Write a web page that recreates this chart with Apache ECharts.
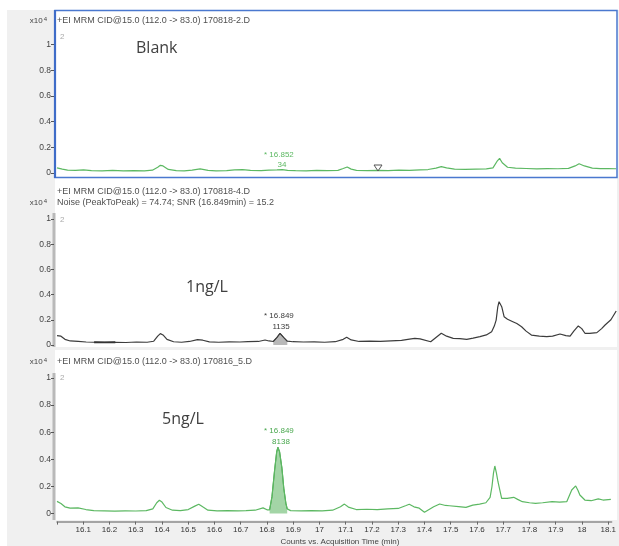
<!DOCTYPE html>
<html><head><meta charset="utf-8">
<script src="https://cdn.jsdelivr.net/npm/echarts@6/dist/echarts.min.js"></script>
<style>html,body{margin:0;padding:0;background:#fff}#c{width:619px;height:546px}</style>
</head><body><div id="c"></div>
<script>
// ---- axis ticks ----
const xTicks = [16.0,16.1,16.2,16.3,16.4,16.5,16.6,16.7,16.8,16.9,17.0,17.1,17.2,17.3,17.4,17.5,17.6,17.7,17.8,17.9,18.0,18.1];
const yTicks = [0,0.2,0.4,0.6,0.8,1];
const xMin = 16.0, xMax = 18.113;

// ---- traces: [time (min), counts x10^4] ----
const blankTrace = [[16.00,0.040],[16.02,0.030],[16.04,0.022],[16.07,0.020],[16.10,0.024],[16.13,0.018],[16.17,0.017],[16.21,0.020],[16.25,0.016],[16.29,0.018],[16.33,0.017],[16.36,0.022],[16.38,0.045],[16.39,0.060],[16.40,0.055],[16.42,0.028],[16.45,0.018],[16.48,0.017],[16.51,0.022],[16.54,0.032],[16.57,0.020],[16.60,0.016],[16.64,0.018],[16.67,0.024],[16.70,0.027],[16.73,0.020],[16.77,0.019],[16.80,0.022],[16.83,0.024],[16.85,0.026],[16.87,0.020],[16.90,0.018],[16.94,0.017],[16.98,0.020],[17.02,0.018],[17.06,0.020],[17.08,0.035],[17.095,0.047],[17.11,0.030],[17.13,0.020],[17.17,0.018],[17.21,0.020],[17.25,0.019],[17.29,0.022],[17.33,0.020],[17.37,0.024],[17.40,0.027],[17.43,0.038],[17.45,0.050],[17.47,0.040],[17.50,0.030],[17.54,0.028],[17.58,0.030],[17.62,0.032],[17.645,0.040],[17.66,0.090],[17.67,0.114],[17.68,0.080],[17.70,0.045],[17.73,0.038],[17.77,0.035],[17.81,0.032],[17.85,0.034],[17.89,0.033],[17.93,0.036],[17.955,0.055],[17.97,0.072],[17.99,0.055],[18.02,0.038],[18.05,0.034],[18.08,0.035],[18.11,0.033]];

const ng1Trace = [[16.00,0.075],[16.015,0.070],[16.03,0.045],[16.05,0.032],[16.08,0.028],[16.11,0.024],[16.14,0.022],[16.18,0.021],[16.22,0.022],[16.26,0.020],[16.30,0.024],[16.34,0.022],[16.365,0.030],[16.38,0.070],[16.39,0.090],[16.40,0.080],[16.415,0.045],[16.44,0.026],[16.47,0.022],[16.50,0.028],[16.53,0.042],[16.55,0.038],[16.575,0.025],[16.61,0.022],[16.65,0.025],[16.69,0.024],[16.72,0.026],[16.76,0.028],[16.785,0.040],[16.80,0.032],[16.816,0.028],[16.83,0.060],[16.8415,0.093],[16.855,0.060],[16.869,0.030],[16.89,0.026],[16.93,0.024],[16.97,0.025],[17.01,0.022],[17.05,0.026],[17.08,0.045],[17.093,0.062],[17.11,0.040],[17.14,0.028],[17.18,0.030],[17.22,0.028],[17.26,0.032],[17.30,0.036],[17.33,0.046],[17.35,0.052],[17.37,0.048],[17.41,0.026],[17.43,0.060],[17.45,0.093],[17.47,0.070],[17.495,0.053],[17.52,0.050],[17.546,0.045],[17.57,0.055],[17.596,0.066],[17.62,0.080],[17.64,0.106],[17.65,0.150],[17.657,0.198],[17.663,0.300],[17.668,0.344],[17.673,0.330],[17.678,0.304],[17.687,0.225],[17.70,0.205],[17.72,0.185],[17.735,0.170],[17.753,0.145],[17.77,0.110],[17.79,0.079],[17.82,0.070],[17.848,0.066],[17.87,0.070],[17.898,0.087],[17.92,0.075],[17.936,0.071],[17.95,0.110],[17.967,0.151],[17.98,0.130],[17.992,0.093],[18.01,0.092],[18.037,0.098],[18.055,0.130],[18.068,0.159],[18.09,0.200],[18.11,0.270]];

const ng5Trace = [[16.00,0.090],[16.015,0.075],[16.03,0.050],[16.05,0.040],[16.08,0.042],[16.11,0.030],[16.14,0.022],[16.18,0.020],[16.22,0.018],[16.26,0.020],[16.30,0.019],[16.34,0.022],[16.365,0.035],[16.38,0.080],[16.39,0.098],[16.40,0.085],[16.415,0.045],[16.44,0.025],[16.47,0.022],[16.50,0.030],[16.525,0.055],[16.54,0.069],[16.555,0.050],[16.575,0.025],[16.61,0.020],[16.65,0.022],[16.69,0.020],[16.72,0.022],[16.755,0.025],[16.785,0.042],[16.80,0.028],[16.81,0.028],[16.819,0.125],[16.829,0.320],[16.837,0.456],[16.8415,0.489],[16.848,0.456],[16.857,0.334],[16.864,0.187],[16.872,0.076],[16.877,0.035],[16.89,0.022],[16.93,0.020],[16.97,0.022],[17.01,0.020],[17.05,0.025],[17.08,0.050],[17.095,0.070],[17.11,0.048],[17.14,0.030],[17.18,0.032],[17.22,0.030],[17.26,0.035],[17.30,0.038],[17.33,0.060],[17.342,0.069],[17.36,0.050],[17.38,0.040],[17.40,0.010],[17.435,0.050],[17.458,0.071],[17.48,0.060],[17.495,0.058],[17.53,0.052],[17.558,0.046],[17.584,0.063],[17.61,0.070],[17.634,0.080],[17.65,0.120],[17.657,0.198],[17.663,0.300],[17.668,0.351],[17.674,0.300],[17.68,0.235],[17.694,0.113],[17.715,0.112],[17.74,0.120],[17.755,0.105],[17.773,0.088],[17.80,0.080],[17.823,0.076],[17.85,0.080],[17.886,0.088],[17.915,0.085],[17.942,0.088],[17.961,0.174],[17.976,0.204],[17.985,0.170],[17.992,0.137],[18.011,0.100],[18.035,0.095],[18.062,0.108],[18.08,0.100],[18.11,0.105]];

const ng1PeakRange = [16.816, 16.869];
const ng5PeakRange = [16.81, 16.877];
const noiseRange = [16.14, 16.25];

const headers = [
  ['+EI MRM CID@15.0 (112.0 -> 83.0) 170818-2.D'],
  ['+EI MRM CID@15.0 (112.0 -> 83.0) 170818-4.D', 'Noise (PeakToPeak) = 74.74; SNR (16.849min) = 15.2'],
  ['+EI MRM CID@15.0 (112.0 -> 83.0) 170816_5.D']
];
const sampleNames = ['Blank', '1ng/L', '5ng/L'];
const peakLabels = [['* 16.852','34'],['* 16.849','1135'],['* 16.849','8138']];
const xAxisTitle = 'Counts vs. Acquisition Time (min)';

const GREEN = '#5cb862';
const DARK = '#3c3c3c';
const grids = [
  {left:57, top:44.6, width:560, height:128.4},
  {left:57, top:219, width:560, height:126},
  {left:57, top:378, width:560, height:135.6}
];
const inRange = (tr, r) => tr.filter(p => p[0] >= r[0] && p[0] <= r[1]);
const fmtX = v => String(Math.round(v*10)/10);
const fmtY = v => String(Math.round(v*10)/10);

const chart = echarts.init(document.getElementById('c'), null, {renderer:'canvas'});
const FONT = '"Liberation Sans", Arial, sans-serif';

const xAxes = grids.map((g,i) => ({
  type:'value', gridIndex:i, min:xMin, max:xMax,
  splitLine:{show:false},
  axisLine:{show:i===2, onZero:false, lineStyle:{color:'#8a8a8a', width:1.5}},
  axisTick:{show:i===2, length:3, lineStyle:{color:'#666'}, customValues:xTicks},
  axisLabel:{show:i===2, customValues:xTicks.slice(1), formatter:fmtX, fontSize:8, color:'#333', margin:4, fontFamily:FONT},
  offset: i===2 ? 8 : 0
}));
const yAxes = grids.map((g,i) => ({
  type:'value', gridIndex:i, min:0, max:1, offset:3,
  splitLine:{show:false},
  axisLine:{show:false},
  axisTick:{show:true, length:3, lineStyle:{color:'#555'}, customValues:yTicks},
  axisLabel:{customValues:yTicks, formatter:fmtY, fontSize:8.5, color:'#444', margin:3, fontFamily:FONT}
}));

const T = (text, x, y, extra) => Object.assign({type:'text', z:100, style:Object.assign({text, x, y, fill:'#555', font:'8px ' + FONT, verticalAlign:'middle'}, extra||{})});
const HF = {font:'9px ' + FONT, fill:'#505050'};

const graphic = [
  {type:'rect', z:-100, shape:{x:7,y:10,width:612,height:536}, style:{fill:'#f0f0f0'}},
  {type:'rect', z:-99, shape:{x:55,y:10,width:562,height:167}, style:{fill:'#fff'}},
  {type:'rect', z:-99, shape:{x:55,y:178,width:562,height:169}, style:{fill:'#fff'}},
  {type:'rect', z:-99, shape:{x:55,y:350,width:562,height:170}, style:{fill:'#fff'}},
  {type:'rect', z:50, shape:{x:55,y:10.5,width:562,height:167}, style:{fill:'none', stroke:'#4a78cf', lineWidth:1.5}},
  {type:'line', z:50, shape:{x1:55,y1:10,x2:55,y2:178}, style:{stroke:'#3f6cc8', lineWidth:2.2}},
  {type:'rect', z:-50, shape:{x:52.5,y:213,width:3,height:134}, style:{fill:'#b9b9b9'}},
  {type:'rect', z:-50, shape:{x:52.5,y:373,width:3,height:147}, style:{fill:'#b9b9b9'}},
  {type:'polygon', z:60, shape:{points:[[374,165],[382,165],[378,171]]}, style:{fill:'none', stroke:'#555', lineWidth:1}},
  T(headers[0][0], 57, 21, HF),
  T(headers[1][0], 57, 192, HF),
  T(headers[1][1], 57, 203, HF),
  T(headers[2][0], 57, 362, HF),
];
[21, 203, 362].forEach(y => graphic.push({type:'text', z:100, style:{text:'{a|x10}{s|4}', x:47, y:y, align:'right', verticalAlign:'middle', rich:{a:{fontSize:8, fill:'#444', fontFamily:FONT}, s:{fontSize:6, fill:'#444', fontFamily:FONT, verticalAlign:'top', padding:[0,0,4,1]}}}}));
[[60,37],[60,220],[60,378]].forEach(p => graphic.push(T('2', p[0], p[1], {fill:'#aaa'})));
const namePos = [[136,48.5],[186,287],[162,419.5]];
sampleNames.forEach((n,i) => graphic.push({type:'text', z:100, style:{text:n, x:namePos[i][0], y:namePos[i][1], fill:'#404040', font:'16px "Open Sans", sans-serif', verticalAlign:'middle'}}));
const plPos = [[264,155,282,165,GREEN],[264,316,281,327,DARK],[264,431,281,442,'#4aa84f']];
peakLabels.forEach((pl,i) => {
  const p = plPos[i];
  graphic.push(T(pl[0], p[0], p[1], {fill:p[4]}));
  graphic.push(T(pl[1], p[2], p[3], {fill:p[4], align:'center'}));
});
graphic.push(T(xAxisTitle, 340, 542, {align:'center', fill:'#444'}));

const line = (idx, data, color, w, extra) => Object.assign({type:'line', xAxisIndex:idx, yAxisIndex:idx, data, symbol:'none', silent:true, lineStyle:{color, width:w}}, extra||{});

chart.setOption({
  animation:false,
  grid: grids,
  xAxis: xAxes,
  yAxis: yAxes,
  series: [
    line(0, blankTrace, GREEN, 1.2),
    line(1, inRange(ng1Trace, ng1PeakRange), DARK, 1, {areaStyle:{color:'rgba(110,110,110,0.7)'}}),
    line(1, ng1Trace, DARK, 1.2),
    line(1, inRange(ng1Trace, noiseRange), '#333', 1.8),
    line(2, inRange(ng5Trace, ng5PeakRange), '#3f9a45', 1, {areaStyle:{color:'rgba(80,175,85,0.75)'}}),
    line(2, ng5Trace, GREEN, 1.2)
  ],
  graphic: graphic
});
</script></body></html>
